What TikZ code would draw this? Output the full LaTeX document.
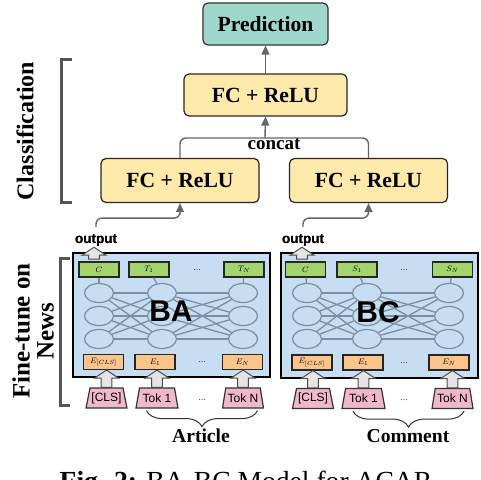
\documentclass[tikz,border=0pt]{standalone}
\usepackage{fontspec}
\usepackage{graphicx}
\setmainfont{Liberation Serif}
\setsansfont{Liberation Sans}
\usetikzlibrary{arrows.meta,decorations.pathreplacing,calc,shapes.geometric}
\definecolor{predfill}{HTML}{9ED7CB}
\definecolor{fcfill}{HTML}{FDE9A9}
\definecolor{bertfill}{HTML}{C7DDF1}
\definecolor{greenfill}{HTML}{A5D46F}
\definecolor{orangefill}{HTML}{FAC48A}
\definecolor{pinkfill}{HTML}{F1B7CB}
\definecolor{netline}{HTML}{7D8EA2}
\definecolor{linegray}{HTML}{666666}
\definecolor{blkfill}{HTML}{E4E4E4}
\definecolor{brgray}{HTML}{555555}
\newcommand\blkup[2]{\draw[blkarrow] let \p1=(#1), \p2=(#2) in
  (\x1-2.7pt,\y1) -- (\x1-2.7pt,\y2-4pt) -- (\x1-6pt,\y2-4pt) -- (\x1,\y2) --
  (\x1+6pt,\y2-4pt) -- (\x1+2.7pt,\y2-4pt) -- (\x1+2.7pt,\y1) -- cycle;}
\newcommand\tinylbl[1]{\scalebox{0.5}{$#1$}}
\tikzset{
  sbold/.style={font=\fontsize{10.8}{12}\selectfont\bfseries},
  predbox/.style={draw=black!80, line width=0.6pt, rounded corners=2.5pt, fill=predfill,
    minimum width=62.5pt, minimum height=21pt, inner sep=0pt, sbold},
  fcbox/.style={draw=black!85, line width=0.6pt, rounded corners=2.5pt, fill=fcfill,
    minimum width=79pt, minimum height=22pt, inner sep=0pt, sbold},
  bertbox/.style={draw=black, line width=0.9pt, fill=bertfill, minimum width=98.5pt,
    minimum height=62pt, inner sep=0pt},
  gbox/.style={draw=black!85, line width=0.6pt, fill=greenfill, minimum width=20pt,
    minimum height=7.5pt, inner sep=0pt, font=\fontsize{8}{8}\selectfont},
  obox/.style={draw=black!85, line width=0.6pt, fill=orangefill, minimum width=20pt,
    minimum height=7.5pt, inner sep=0pt, font=\fontsize{8}{8}\selectfont},
  tokbox/.style={trapezium, trapezium stretches=true, trapezium left angle=72,
    trapezium right angle=72, draw=black!80, line width=0.6pt, fill=pinkfill,
    minimum width=20.5pt, minimum height=10pt, inner sep=0pt,
    font=\sffamily\fontsize{6}{6}\selectfont},
  neuron/.style={ellipse, draw=netline, line width=0.6pt, minimum width=14.5pt,
    minimum height=9.5pt, inner sep=0pt},
  netedge/.style={draw=netline, line width=0.65pt},
  arr/.style={draw=linegray, line width=0.7pt, -{Triangle[length=4.5pt,width=4pt]}},
  conn/.style={draw=linegray, line width=0.7pt, rounded corners=3pt},
  blkarrow/.style={draw=black!70, line width=0.5pt, fill=blkfill},
  bracket/.style={draw=brgray, line width=1.5pt},
  brc/.style={draw=black!80, line width=0.5pt, decorate, decoration={brace, amplitude=8pt}},
  dots/.style={font=\fontsize{5}{5}\selectfont, text=black!70},
  bigsans/.style={font=\sffamily\bfseries\fontsize{15}{15}\selectfont},
  outlbl/.style={font=\sffamily\bfseries\fontsize{6.75}{7}\selectfont, inner sep=0.5pt},
  grplbl/.style={font=\fontsize{9.8}{10}\selectfont\bfseries},
  sidelbl/.style={font=\fontsize{12}{12}\selectfont\bfseries, rotate=90, align=center}
}
\begin{document}
\begin{tikzpicture}[x=0.5pt,y=-0.5pt]
\useasboundingbox (0,0) rectangle (480,480);

% ---- classification part ----
\node[predbox] (pred) at (265.5,24) {Prediction};
\node[fcbox, minimum width=81.5pt, minimum height=21pt] (fcT) at (265.5,95) {FC + ReLU};
\node[fcbox] (fcL) at (180,180.5) {FC + ReLU};
\node[fcbox] (fcR) at (368.5,180.5) {FC + ReLU};
\draw[arr] (fcT.north) -- (pred.south);
\coordinate (cj) at (265,138);
\draw[conn] (fcL.north) |- (cj) -| (fcR.north);
\draw[arr] (cj) -- (fcT.south);
\node[font=\fontsize{9.5}{10}\selectfont\bfseries] (concat) at (274,144) {concat};

% ---- BERT boxes ----
\node[bertbox] (BA) at (171.5,315) {};
\node[bertbox, minimum height=62.5pt] (BC) at (379.5,315.5) {};

% network BA
\foreach \c/\x in {1/99,2/162,3/243}
  \foreach \r/\y in {1/293,2/316,3/339}
    \node[neuron] (A\c\r) at (\x,\y) {};
\foreach \i in {1,2,3}
  \foreach \j in {1,2,3} {
    \draw[netedge] (A1\i) -- (A2\j);
    \draw[netedge] (A2\i) -- (A3\j);
  }
% network BC
\foreach \c/\x in {1/307,2/367,3/449}
  \foreach \r/\y in {1/293,2/316,3/339}
    \node[neuron] (B\c\r) at (\x,\y) {};
\foreach \i in {1,2,3}
  \foreach \j in {1,2,3} {
    \draw[netedge] (B1\i) -- (B2\j);
    \draw[netedge] (B2\i) -- (B3\j);
  }

% green output boxes
\node[gbox] (gA1) at (99,269.5) {\tinylbl{C}};
\node[gbox] (gA2) at (149,269.5) {\tinylbl{T_1}};
\node[gbox] (gA3) at (244,269.5) {\tinylbl{T_N}};
\node[dots] (gAd) at (197,270) {...};
\node[gbox] (gB1) at (305.5,269.5) {\tinylbl{C}};
\node[gbox] (gB2) at (357,269.5) {\tinylbl{S_1}};
\node[gbox] (gB3) at (452.5,269.5) {\tinylbl{S_N}};
\node[dots] (gBd) at (404,270) {...};
\draw[netedge] (gA1) -- (A11);
\draw[netedge] (gA2) -- (A21);
\draw[netedge] (gA3) -- (A31);
\draw[netedge] (gB1) -- (B11);
\draw[netedge] (gB2) -- (B21);
\draw[netedge] (gB3) -- (B31);

% orange embedding boxes
\node[obox] (oA1) at (103.5,362) {\tinylbl{E_{[CLS]}}};
\node[obox] (oA2) at (155,362) {\tinylbl{E_1}};
\node[obox] (oA3) at (242.5,362) {\tinylbl{E_N}};
\node[dots] (oAd) at (202,362) {...};
\node[obox] (oB1) at (312,362.5) {\tinylbl{E_{[CLS]}}};
\node[obox] (oB2) at (363,362.5) {\tinylbl{E_1}};
\node[obox] (oB3) at (449,362.5) {\tinylbl{E_N}};
\node[dots] (oBd) at (404,363) {...};

\node[bigsans] (lBA) at (171,311) {BA};
\node[bigsans] (lBC) at (378,312) {BC};

% tokens
\node[tokbox] (tA1) at (106.5,398) {[CLS]};
\node[tokbox, minimum width=21pt] (tA2) at (157,398) {Tok 1};
\node[tokbox] (tA3) at (243,398) {Tok N};
\node[dots] (tAd) at (202,400) {...};
\node[tokbox] (tB1) at (313,398.5) {[CLS]};
\node[tokbox, minimum width=21.5pt] (tB2) at (363.5,398.5) {Tok 1};
\node[tokbox] (tB3) at (452.5,398.5) {Tok N};
\node[dots] (tBd) at (404,400) {...};

\blkup{tA1.north}{oA1.south}
\blkup{tA2.north}{oA2.south}
\blkup{tA3.north}{oA3.south}
\blkup{tB1.north}{oB1.south}
\blkup{tB2.north}{oB2.south}
\blkup{tB3.north}{oB3.south}

% output arrows and labels
\coordinate (obA) at (94,259);
\coordinate (obB) at (302,259);
\node[outlbl] (outA) at (96,240) {output};
\node[outlbl] (outB) at (303,240) {output};
\blkup{obA}{$(outA.south)+(-2,0)$}
\blkup{obB}{$(outB.south)+(-1,0)$}
\node[outlbl] at (outA) {output};
\node[outlbl] at (outB) {output};
\draw[arr, rounded corners=3pt] ($(outA.north)+(0,-6)$) |- ($(fcL.south)+(0,15)$) -| (fcL.south);
\draw[arr, rounded corners=3pt] ($(outB.north)+(0,-6)$) |- ($(fcR.south)+(0,15)$) -| (fcR.south);

% braces
\draw[brc] ($(tA3.south east)+(4,2)$) -- ($(tA2.south west)+(0,2)$);
\draw[brc] ($(tB3.south east)+(1,2)$) -- ($(tB2.south west)+(0,2)$);
\node[grplbl] (art) at (201,436) {Article};
\node[grplbl] (com) at (408,436) {Comment};

% side brackets and labels
\draw[bracket] (72,60) -- (61,60) -- (61,203) -- (72,203);
\draw[bracket] (70,258) -- (60,258) -- (60,405) -- (70,405);
\node[sidelbl] (cls) at (25,131) {Classification};
\node[sidelbl, font=\fontsize{12.5}{12}\selectfont\bfseries] (ft) at (33,331) {Fine-tune on\\News};

% caption (cut off by the page edge, as in the reference)
\node[anchor=base, font=\fontsize{13.8}{14}\selectfont] (cap) at (246,490) {\textbf{Fig. 2:} BA-BC Model for ACAR};
\end{tikzpicture}
\end{document}
